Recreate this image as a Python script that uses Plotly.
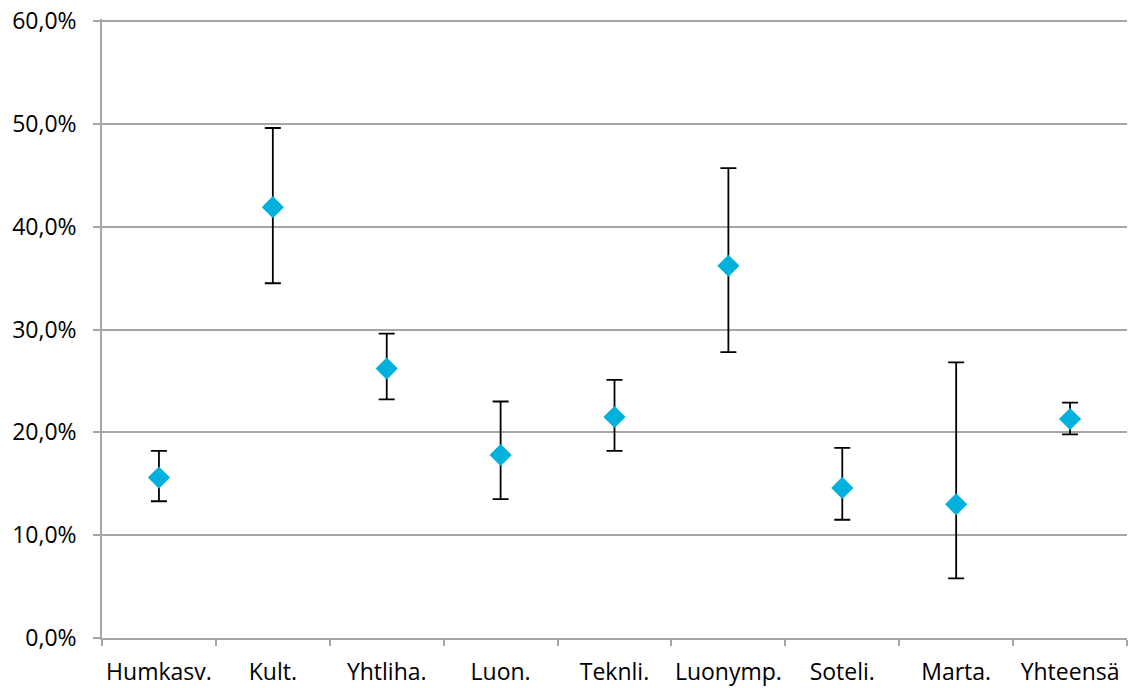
import plotly.graph_objects as go

categories = ["Humkasv.", "Kult.", "Yhtliha.", "Luon.", "Teknli.", "Luonymp.", "Soteli.", "Marta.", "Yhteensä"]
values = [15.6, 41.9, 26.2, 17.8, 21.5, 36.2, 14.6, 13.0, 21.3]
upper = [18.2, 49.6, 29.6, 23.0, 25.1, 45.7, 18.5, 26.8, 22.9]
lower = [13.3, 34.5, 23.2, 13.5, 18.2, 27.8, 11.5, 5.8, 19.8]

y_ticks = [0, 10, 20, 30, 40, 50, 60]
y_ticktext = ["0,0%", "10,0%", "20,0%", "30,0%", "40,0%", "50,0%", "60,0%"]

err_plus = [u - v for u, v in zip(upper, values)]
err_minus = [v - l for v, l in zip(values, lower)]

fig = go.Figure()
fig.add_trace(go.Scatter(
    x=categories, y=values, mode="markers",
    marker=dict(symbol="diamond", size=17, color="#00B0DD", line=dict(width=0)),
    error_y=dict(type="data", symmetric=False, array=err_plus, arrayminus=err_minus,
                 color="black", thickness=1.8, width=8),
    showlegend=False,
))

axis_font = dict(family="Open Sans", size=23, color="black")
fig.update_layout(
    width=1137, height=688,
    margin=dict(l=102, r=10, t=19, b=50),
    plot_bgcolor="white", paper_bgcolor="white",
    xaxis=dict(type="category", tickson="boundaries", ticks="outside", ticklen=6,
               tickcolor="#A6A6A6", tickwidth=1.5, showgrid=False,
               showline=True, linecolor="#A6A6A6", linewidth=1.5,
               tickfont=axis_font, range=[-0.5, 8.5], ticklabelstandoff=13,
               tickangle=0, automargin=False),
    yaxis=dict(range=[0, 60.2], tickvals=y_ticks, ticktext=y_ticktext,
               ticks="outside", ticklen=7, tickcolor="#A6A6A6", tickwidth=1.5,
               showgrid=True, gridcolor="#A6A6A6", gridwidth=1.5,
               showline=True, linecolor="#A6A6A6", linewidth=1.5,
               zeroline=False, tickfont=axis_font, ticklabelstandoff=12,
               automargin=False),
)

fig.write_html("out.html", config={"displayModeBar": False},
               post_script="document.body.style.margin='0';")
